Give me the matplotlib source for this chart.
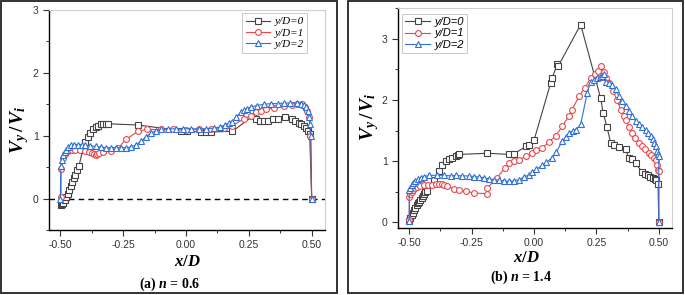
import numpy as np
import matplotlib
matplotlib.use("Agg")
import matplotlib.pyplot as plt
from matplotlib.patches import Rectangle
from matplotlib.ticker import MultipleLocator

plt.rcParams['font.family'] = ['Liberation Sans', 'DejaVu Sans']
plt.rcParams['mathtext.fontset'] = 'custom'
plt.rcParams['mathtext.it'] = 'Liberation Serif:italic:bold'
plt.rcParams['mathtext.rm'] = 'Liberation Serif:bold'
plt.rcParams['mathtext.bf'] = 'Liberation Serif:bold'

# (a) n = 0.6
x0a = [-0.497, -0.493, -0.488, -0.482, -0.476, -0.47, -0.464, -0.458, -0.452, -0.446, -0.44, -0.433,
       -0.426, -0.41, -0.4, -0.39, -0.38, -0.37, -0.36, -0.35, -0.34, -0.33, -0.32, -0.31, -0.19,
       -0.02, 0.005, 0.06, 0.08, 0.1, 0.185, 0.265, 0.28, 0.295, 0.31, 0.325, 0.345, 0.365, 0.395,
       0.42, 0.435, 0.448, 0.458, 0.468, 0.477, 0.485, 0.492, 0.5]
y0a = [-0.1, -0.09, -0.07, -0.03, 0.02, 0.08, 0.14, 0.2, 0.26, 0.32, 0.38, 0.45, 0.52, 0.78, 0.9,
       0.98, 1.05, 1.1, 1.14, 1.16, 1.18, 1.19, 1.19, 1.19, 1.17, 1.08, 1.07, 1.06, 1.06, 1.06, 1.07,
       1.31, 1.27, 1.24, 1.23, 1.24, 1.26, 1.27, 1.3, 1.27, 1.24, 1.21, 1.18, 1.15, 1.12, 1.08, 1.02, 0.0]

x1a = [-0.497, -0.497, -0.49, -0.482, -0.47, -0.455, -0.44, -0.42, -0.4, -0.385, -0.372, -0.365,
       -0.36, -0.355, -0.345, -0.33, -0.3, -0.27, -0.24, -0.19, -0.155, -0.1, -0.05, 0.0, 0.05, 0.1,
       0.15, 0.185, 0.23, 0.257, 0.28, 0.3, 0.32, 0.35, 0.39, 0.42, 0.443, 0.46, 0.472, 0.482, 0.49,
       0.495, 0.5]
y1a = [0.02, 0.47, 0.65, 0.71, 0.75, 0.77, 0.77, 0.77, 0.76, 0.74, 0.72, 0.71, 0.7, 0.71, 0.72, 0.74,
       0.76, 0.8, 0.94, 1.07, 1.1, 1.1, 1.1, 1.09, 1.1, 1.11, 1.13, 1.16, 1.27, 1.32, 1.37, 1.4, 1.42,
       1.44, 1.47, 1.49, 1.51, 1.5, 1.46, 1.4, 1.3, 1.0, 0.0]

x2a = [-0.5, -0.498, -0.494, -0.489, -0.483, -0.476, -0.468, -0.458, -0.445, -0.43, -0.415, -0.4,
       -0.38, -0.36, -0.34, -0.32, -0.3, -0.28, -0.26, -0.24, -0.22, -0.2, -0.18, -0.16, -0.14, -0.12,
       -0.1, -0.07, -0.04, -0.01, 0.02, 0.05, 0.08, 0.11, 0.135, 0.155, 0.17, 0.185, 0.2, 0.217, 0.23,
       0.244, 0.26, 0.283, 0.31, 0.337, 0.365, 0.39, 0.415, 0.443, 0.458, 0.469, 0.478, 0.485, 0.49,
       0.494, 0.497, 0.5]
y2a = [0.0, 0.52, 0.62, 0.69, 0.74, 0.78, 0.82, 0.85, 0.86, 0.86, 0.86, 0.85, 0.84, 0.83, 0.82, 0.81,
       0.81, 0.81, 0.81, 0.81, 0.82, 0.85, 0.91, 0.98, 1.04, 1.08, 1.1, 1.11, 1.11, 1.11, 1.11, 1.11,
       1.11, 1.12, 1.14, 1.17, 1.2, 1.22, 1.3, 1.37, 1.41, 1.43, 1.46, 1.48, 1.5, 1.51, 1.51, 1.52,
       1.52, 1.52, 1.51, 1.49, 1.45, 1.39, 1.3, 1.18, 0.99, 0.0]

# (b) n = 1.4
x0b = [-0.5, -0.495, -0.49, -0.485, -0.48, -0.475, -0.47, -0.465, -0.46, -0.455, -0.45, -0.445,
       -0.44, -0.435, -0.43, -0.4, -0.38, -0.367, -0.353, -0.34, -0.327, -0.313, -0.305, -0.3, -0.187,
       -0.1, -0.08, -0.033, -0.02, 0.0, 0.067, 0.073, 0.093, 0.097, 0.187, 0.267, 0.277, 0.293, 0.307,
       0.32, 0.34, 0.367, 0.38, 0.393, 0.407, 0.433, 0.445, 0.455, 0.465, 0.475, 0.483, 0.49, 0.497, 0.5]
y0b = [0.03, 0.08, 0.12, 0.16, 0.2, 0.24, 0.28, 0.31, 0.34, 0.37, 0.4, 0.43, 0.46, 0.49, 0.52, 0.7,
       0.84, 0.94, 1.0, 1.03, 1.06, 1.09, 1.1, 1.11, 1.13, 1.11, 1.12, 1.24, 1.27, 1.34, 2.28, 2.36,
       2.58, 2.55, 3.23, 2.03, 1.79, 1.55, 1.3, 1.26, 1.23, 1.2, 1.05, 1.03, 0.97, 0.82, 0.79, 0.77,
       0.75, 0.73, 0.71, 0.69, 0.63, 0.0]

x1b = [-0.5, -0.499, -0.495, -0.49, -0.484, -0.477, -0.468, -0.455, -0.44, -0.425, -0.41, -0.393,
       -0.38, -0.37, -0.36, -0.347, -0.32, -0.3, -0.273, -0.24, -0.19, -0.187, -0.15, -0.116, -0.1,
       -0.08, -0.06, -0.033, -0.007, 0.007, 0.033, 0.06, 0.087, 0.113, 0.14, 0.153, 0.18, 0.205, 0.227,
       0.245, 0.257, 0.27, 0.28, 0.29, 0.3, 0.315, 0.333, 0.347, 0.36, 0.367, 0.38, 0.393, 0.405, 0.42,
       0.433, 0.445, 0.46, 0.47, 0.48, 0.487, 0.493, 0.497, 0.5, 0.5]
y1b = [0.04, 0.42, 0.47, 0.5, 0.53, 0.56, 0.58, 0.6, 0.61, 0.61, 0.61, 0.62, 0.62, 0.62, 0.61, 0.59,
       0.55, 0.53, 0.51, 0.48, 0.47, 0.56, 0.72, 0.89, 0.97, 1.0, 1.02, 1.08, 1.13, 1.19, 1.21, 1.32,
       1.41, 1.57, 1.74, 1.84, 2.06, 2.2, 2.36, 2.42, 2.47, 2.55, 2.45, 2.35, 2.28, 2.15, 2.0, 1.84,
       1.74, 1.68, 1.55, 1.46, 1.38, 1.3, 1.24, 1.2, 1.14, 1.1, 1.06, 1.02, 0.94, 0.85, 0.84, 0.0]

x2b = [-0.5, -0.5, -0.496, -0.49, -0.483, -0.475, -0.465, -0.453, -0.44, -0.42, -0.39, -0.36, -0.333,
       -0.313, -0.29, -0.26, -0.24, -0.22, -0.2, -0.18, -0.16, -0.14, -0.12, -0.1, -0.08, -0.06, -0.04,
       -0.02, -0.007, 0.01, 0.033, 0.05, 0.073, 0.09, 0.113, 0.13, 0.14, 0.155, 0.167, 0.187, 0.213,
       0.227, 0.24, 0.253, 0.263, 0.273, 0.28, 0.287, 0.3, 0.313, 0.327, 0.34, 0.353, 0.367, 0.38,
       0.393, 0.407, 0.42, 0.433, 0.447, 0.457, 0.467, 0.475, 0.482, 0.488, 0.493, 0.497, 0.5, 0.5]
y2b = [0.02, 0.53, 0.57, 0.61, 0.65, 0.68, 0.71, 0.73, 0.75, 0.77, 0.77, 0.77, 0.76, 0.77, 0.76, 0.76,
       0.75, 0.74, 0.73, 0.71, 0.7, 0.69, 0.68, 0.67, 0.68, 0.7, 0.74, 0.78, 0.82, 0.87, 0.93, 0.98,
       1.06, 1.15, 1.33, 1.4, 1.46, 1.49, 1.51, 1.6, 2.11, 2.3, 2.33, 2.36, 2.37, 2.39, 2.42, 2.3, 2.28,
       2.25, 2.18, 2.06, 1.98, 1.9, 1.82, 1.73, 1.66, 1.6, 1.55, 1.51, 1.46, 1.41, 1.36, 1.3, 1.24,
       1.17, 1.12, 1.08, 0.0]

labels = ['y/D=0', 'y/D=1', 'y/D=2']
colors = ['#444444', '#e8474a', '#2f6fd6']
markers = ['s', 'o', '^']

W, H = 685, 295
fig = plt.figure(figsize=(W / 100, H / 100), dpi=100)

# panel frames
fig.add_artist(Rectangle((1 / W, 2 / H), 336 / W, 292 / H, transform=fig.transFigure,
                         fill=False, lw=1.3, ec='#222222'))
fig.add_artist(Rectangle((348 / W, 2 / H), 335 / W, 292 / H, transform=fig.transFigure,
                         fill=False, lw=1.3, ec='#222222'))


def style(ax):
    for s in ['top', 'right']:
        ax.spines[s].set_color('#cfcfcf')
        ax.spines[s].set_linewidth(0.8)
    for s in ['left', 'bottom']:
        ax.spines[s].set_linewidth(1.0)
    ax.set_xlim(-0.545, 0.553)
    ax.set_xticks([-0.5, -0.25, 0.0, 0.25, 0.5])
    ax.set_xticklabels(['-0.50', '-0.25', '0.00', '0.25', '0.50'])
    ax.xaxis.set_minor_locator(MultipleLocator(0.125))
    ax.yaxis.set_minor_locator(MultipleLocator(0.5))
    ax.tick_params(which='both', direction='out', top=False, right=False, labelsize=7.5,
                   colors='#333333', labelcolor='#333333')
    ax.tick_params(which='major', length=4, width=0.8)
    ax.tick_params(which='minor', length=2.5, width=0.7)


def draw(ax, xs, ys):
    for x, y, c, m, lab in zip(xs, ys, colors, markers, labels):
        ax.plot(x, y, color=c, lw=0.8, marker=m, ms=4.2, mfc='white', mec=c, mew=0.8, label=lab)


ax1 = fig.add_axes([49 / W, 65 / H, 276 / W, 220 / H])
draw(ax1, [x0a, x1a, x2a], [y0a, y1a, y2a])
ax1.axhline(0, color='black', lw=1.0, ls=(0, (4, 3)), zorder=0)
style(ax1)
ax1.set_ylim(-0.5, 3)
ax1.set_yticks([0, 1, 2, 3])
leg1 = ax1.legend(loc='upper right', bbox_to_anchor=(0.935, 0.985),
                  prop={'family': 'Liberation Serif', 'style': 'italic', 'size': 8},
                  frameon=True, fancybox=False, edgecolor='#bbbbbb', handlelength=2.2,
                  handletextpad=0.4, borderpad=0.3, labelspacing=0.15, borderaxespad=0)
leg1.get_frame().set_linewidth(0.7)

ax2 = fig.add_axes([398 / W, 67 / H, 274 / W, 220 / H])
draw(ax2, [x0b, x1b, x2b], [y0b, y1b, y2b])
style(ax2)
ax2.set_ylim(-0.09, 3.5)
ax2.set_yticks([0, 1, 2, 3])
leg2 = ax2.legend(loc='upper left', bbox_to_anchor=(0.015, 0.975),
                  prop={'family': 'Liberation Sans', 'style': 'italic', 'size': 8},
                  frameon=True, fancybox=False, edgecolor='#bbbbbb', handlelength=2.2,
                  handletextpad=0.4, borderpad=0.3, labelspacing=0.15, borderaxespad=0)
leg2.get_frame().set_linewidth(0.7)

# axis labels
fig.text(20 / W, 1 - 130 / H, r'$V_y\,/\,V_i$', rotation=90, ha='center', va='center', fontsize=14)
fig.text(370 / W, 1 - 117 / H, r'$V_y\,/\,V_i$', rotation=90, ha='center', va='center', fontsize=14)
fig.text(187 / W, 1 - 262 / H, r'$x/D$', ha='center', va='center', fontsize=12)
fig.text(526 / W, 1 - 257 / H, r'$x/D$', ha='center', va='center', fontsize=12)
fig.text(170 / W, 1 - 284 / H, r'(a) $n$ = 0.6', ha='center', va='center', fontsize=10,
         family='Liberation Serif', weight='bold')
fig.text(521 / W, 1 - 277 / H, r'(b) $n$ = 1.4', ha='center', va='center', fontsize=10,
         family='Liberation Serif', weight='bold')

fig.savefig('out.png', dpi=100)
